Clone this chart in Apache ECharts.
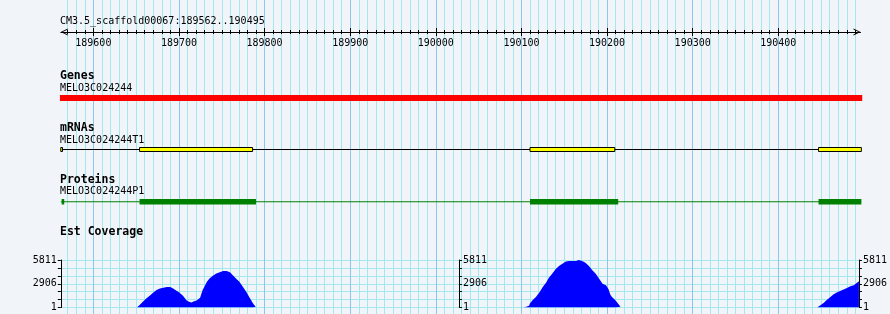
<!DOCTYPE html>
<html><head><meta charset="utf-8">
<script src="https://cdn.jsdelivr.net/npm/echarts@6/dist/echarts.min.js"></script>
<style>html,body{margin:0;padding:0;background:#f1f5fa}#c{width:890px;height:314px}</style>
</head><body><div id="c"></div>
<script>
// ---- data ----
const regionTitle = 'CM3.5_scaffold00067:189562..190495';
const viewStart = 189562;
const viewEnd = 190496;
const majorTicks = [189600, 189700, 189800, 189900, 190000, 190100, 190200, 190300, 190400];
const minorTicks = [];
for (let v = 189570; v <= 190490; v += 10) minorTicks.push(v);
const trackNames = ['Genes', 'mRNAs', 'Proteins', 'Est Coverage'];
const featureNames = ['MELO3C024244', 'MELO3C024244T1', 'MELO3C024244P1'];
const geneSpans = [[189561, 190498]];
const mrnaSpan = [[189562, 190497]];
const mrnaExons = [[189562, 189564], [189654, 189786], [190110, 190209], [190447, 190497]];
const proteinSpan = [[189562, 190497]];
const proteinParts = [[189563, 189566], [189654, 189790], [190110, 190213], [190447, 190497]];
const coverageLabels = [1, 2906, 5811];
const coverageMin = 1;
const coverageMax = 5811;
const covEdge = [[189562, 110], [189563.5, 110], [189564, 1]];
const covDot = [[189646.5, 1], [189647, 120], [189648, 120], [189648.5, 1]];
const covPeakA = [
  [189651, 1], [189652, 80], [189654, 290], [189658, 700], [189662, 1100], [189666, 1430],
  [189670, 1800], [189674, 2130], [189678, 2330], [189682, 2410], [189686, 2500], [189690, 2500],
  [189693, 2370], [189697, 2090], [189701, 1800], [189705, 1430], [189709, 900], [189712, 700],
  [189715, 610], [189718, 780], [189721, 860], [189725, 1190], [189727, 1430], [189728, 2130],
  [189730, 2540], [189733, 3150], [189736, 3560], [189740, 3890], [189744, 4170], [189748, 4300],
  [189752, 4460], [189756, 4460], [189760, 4300], [189763, 3970], [189767, 3560], [189771, 3150],
  [189775, 2540], [189779, 1920], [189783, 1190], [189787, 490], [189790, 80], [189791, 1]
];
const covPeakB = [
  [190104, 1], [190105, 160], [190110, 200], [190111, 490], [190114, 890], [190118, 1300],
  [190122, 1830], [190126, 2520], [190130, 3050], [190133, 3610], [190137, 4140], [190141, 4670],
  [190145, 5080], [190149, 5360], [190153, 5640], [190157, 5680], [190161, 5690], [190165, 5700],
  [190168, 5811], [190172, 5680], [190176, 5480], [190180, 5080], [190184, 4550], [190188, 4140],
  [190192, 3530], [190196, 2920], [190200, 2720], [190203, 2230], [190205, 1580], [190207, 1300],
  [190211, 890], [190215, 370], [190217, 80], [190218, 1]
];
const covPeakC = [
  [190447, 1], [190448, 160], [190451, 280], [190455, 570], [190458, 890], [190462, 1220],
  [190466, 1580], [190470, 1830], [190474, 2030], [190478, 2190], [190482, 2400], [190486, 2600],
  [190490, 2720], [190492, 2920], [190496, 3210]
];

// ---- layout / style ----
const L = 60.8, R = 29.5;
const mono = '"DejaVu Sans Mono", monospace';
const minorColor = '#a4e8ef';
const majorColor = '#88c8ec';
const chevron = 'path://M5,0 L10,10 L8.6,10 L5,2.8 L1.4,10 L0,10 Z';

const chart = echarts.init(document.getElementById('c'), null, {renderer: 'canvas'});

function xAx(grid, extra) {
  return Object.assign({
    type: 'value', gridIndex: grid, min: viewStart, max: viewEnd,
    axisLine: {show: false, onZero: false}, axisTick: {show: false}, axisLabel: {show: false},
    splitLine: {show: false}
  }, extra);
}
function yHidden(grid) {
  return {type: 'value', gridIndex: grid, min: 0, max: 1, show: false, axisLine: {onZero: false}};
}
function rulerTicks(values, len, inside, extra) {
  return xAx(0, Object.assign({
    position: 'bottom', z: 3,
    axisTick: {show: true, customValues: values, length: len, inside: inside, lineStyle: {color: '#000', width: 1}}
  }, extra || {}));
}
function boxes(xi, yi, data, fill, stroke) {
  return {
    type: 'custom', xAxisIndex: xi, yAxisIndex: yi, data: data, clip: false, silent: true, z: 4,
    encode: {x: [0, 1]},
    renderItem: function (params, api) {
      const a = api.coord([api.value(0), 1]);
      const b = api.coord([api.value(1), 0]);
      return {type: 'rect', shape: {x: a[0], y: a[1], width: b[0] - a[0], height: b[1] - a[1]},
        style: {fill: fill, stroke: stroke || null, lineWidth: stroke ? 1 : 0}};
    }
  };
}
function backbone(xi, yi, data, color) {
  return {
    type: 'custom', xAxisIndex: xi, yAxisIndex: yi, data: data, clip: false, silent: true, z: 3,
    encode: {x: [0, 1]},
    renderItem: function (params, api) {
      const a = api.coord([api.value(0), 0.5]);
      const b = api.coord([api.value(1), 0.5]);
      return {type: 'line', shape: {x1: a[0], y1: a[1], x2: b[0], y2: b[1]},
        style: {stroke: color, lineWidth: 1}};
    }
  };
}
function coverageSeries(data) {
  return {
    type: 'line', xAxisIndex: 9, yAxisIndex: 5, data: data, showSymbol: false, silent: true, z: 4,
    lineStyle: {width: 0, opacity: 0},
    areaStyle: {color: '#0000ff', opacity: 1, origin: 'start'}
  };
}
const covInterval = (coverageMax - coverageMin) / 6;
function covAxis(pos, offset, split) {
  return {
    type: 'value', gridIndex: 5, position: pos, offset: offset,
    min: coverageMin, max: coverageMax, interval: covInterval,
    axisLine: {show: true, onZero: false, lineStyle: {color: '#000', width: 1}},
    axisTick: {show: true, length: 3, lineStyle: {color: '#000'}},
    axisLabel: {show: true, margin: 4, color: '#000', fontFamily: mono, fontSize: 10,
      formatter: function (v) { const r = Math.round(v); return coverageLabels.indexOf(r) >= 0 ? String(r) : ''; }},
    splitLine: {show: split, lineStyle: {color: minorColor, width: 1}}
  };
}

const texts = [
  [regionTitle, 21.5, false],
  [trackNames[0], 76, true], [featureNames[0], 88.3, false],
  [trackNames[1], 128, true], [featureNames[1], 140, false],
  [trackNames[2], 180, true], [featureNames[2], 191.7, false],
  [trackNames[3], 232.2, true]
];

const option = {
  animation: false,
  backgroundColor: '#f1f5fa',
  grid: [
    {left: L, right: R, top: 0, height: 32},
    {left: L, right: R, top: 0, bottom: 0},
    {left: L, right: R, top: 95, height: 6},
    {left: L, right: R, top: 147.5, height: 4},
    {left: L, right: R, top: 199, height: 5.5},
    {left: L, right: R, top: 260, height: 47.5}
  ],
  xAxis: [
    rulerTicks(majorTicks, 4, false, {
      axisLine: {show: true, onZero: false, lineStyle: {color: '#000', width: 1},
        symbol: [chevron, chevron], symbolSize: [7, 7], symbolOffset: [3.5, -3.5]},
      axisLabel: {show: true, customValues: majorTicks, margin: 6.5, color: '#000', fontFamily: mono, fontSize: 10,
        formatter: function (v) { return String(v); }}
    }),
    rulerTicks(majorTicks, 4, true),
    rulerTicks(minorTicks, 2, false),
    rulerTicks(minorTicks, 2, true),
    xAx(1, {axisTick: {show: false, customValues: minorTicks}, splitLine: {show: true, lineStyle: {color: minorColor, width: 1}}}),
    xAx(1, {axisTick: {show: false, customValues: majorTicks}, splitLine: {show: true, lineStyle: {color: majorColor, width: 1}}}),
    xAx(2, {show: false}),
    xAx(3, {show: false}),
    xAx(4, {show: false}),
    xAx(5, {show: false})
  ],
  yAxis: [
    yHidden(0), yHidden(1), yHidden(2), yHidden(3), yHidden(4),
    covAxis('left', 0, true),
    covAxis('right', -400, false),
    covAxis('right', 0, false)
  ],
  series: [
    boxes(6, 2, geneSpans, '#ff0000'),
    backbone(7, 3, mrnaSpan, '#000000'),
    boxes(7, 3, mrnaExons, '#ffff00', '#000000'),
    backbone(8, 4, proteinSpan, '#008000'),
    boxes(8, 4, proteinParts, '#008000'),
    coverageSeries(covEdge),
    coverageSeries(covDot),
    coverageSeries(covPeakA),
    coverageSeries(covPeakB),
    coverageSeries(covPeakC)
  ],
  graphic: texts.map(function (t) {
    return {type: 'text', x: 60, y: t[1], z: 10, silent: true,
      style: {text: t[0], fill: '#000', verticalAlign: 'middle',
        font: (t[2] ? 'bold 11.5px ' : '10px ') + mono}};
  })
};
chart.setOption(option);
</script>
</body></html>
